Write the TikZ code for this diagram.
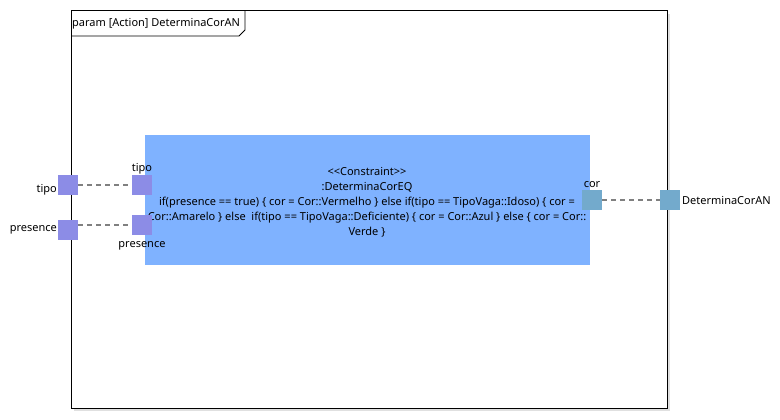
\documentclass[tikz,border=0pt]{standalone}
\usepackage{fontspec}
\setmainfont{Noto Sans}
\definecolor{blockblue}{HTML}{7FB2FF}
\definecolor{portpurple}{HTML}{8C8CE6}
\definecolor{portteal}{HTML}{73AACC}
\definecolor{dashgray}{HTML}{808080}
\tikzset{
  lbl/.style={font=\fontsize{11}{13}\selectfont, inner sep=0pt},
  portin/.style={draw=none, fill=portpurple, minimum width=20pt, minimum height=20pt, inner sep=0pt},
  portout/.style={draw=none, fill=portteal, minimum width=20pt, minimum height=20pt, inner sep=0pt},
  conn/.style={draw=dashgray, line width=1.5pt, dash pattern=on 5pt off 4pt},
}
\begin{document}
\begin{tikzpicture}[x=1pt,y=-1pt]
\useasboundingbox (0,0) rectangle (780,420);
% shadow
\fill[black!12] (74,14) rectangle (670,411);
% frame
\draw[fill=white, line width=1pt] (71,11) rectangle (667,408);
% tab
\draw[line width=0.8pt] (71,36) -- (239,36) -- (245,30) -- (245,11);
\node[lbl, anchor=west] (title) at (72,24) {param [Action] DeterminaCorAN};
% constraint block
\node[fill=blockblue, draw=none, minimum width=445pt, minimum height=130pt, inner sep=0pt, anchor=north west] (blk) at (145,135) {};
\node[lbl, align=center, font=\fontsize{11}{15}\selectfont] (txt) at (367,202)
{<{}<Constraint>{}>\\
:DeterminaCorEQ\\
if(presence == true) \{ cor = Cor::Vermelho \} else if(tipo == TipoVaga::Idoso) \{ cor =\\
Cor::Amarelo \} else\ \ if(tipo == TipoVaga::Deficiente) \{ cor = Cor::Azul \} else \{ cor = Cor::\\
Verde \}};
% ports
\node[portin] (tipoO) at (68,185) {};
\node[portin] (presO) at (68,230) {};
\node[portin] (tipoI) at (142,185) {};
\node[portin] (presI) at (142,225) {};
\node[portout] (corI) at (592,200) {};
\node[portout] (outO) at (670,200) {};
% connectors
\draw[conn] (tipoO.east) -- (tipoI.west);
\draw[conn] (presO.east |- presI.west) -- (presI.west);
\draw[conn] (corI.east) -- (outO.west);
% labels
\node[lbl, anchor=east] (ltipoO) at (57,190) {tipo};
\node[lbl, anchor=east] (lpresO) at (57,230) {presence};
\node[lbl] (ltipoI) at (142,169) {tipo};
\node[lbl] (lpresI) at (142,246) {presence};
\node[lbl] (lcor) at (592,185) {cor};
\node[lbl, anchor=west] (lout) at (682,201) {DeterminaCorAN};
\end{tikzpicture}
\end{document}
